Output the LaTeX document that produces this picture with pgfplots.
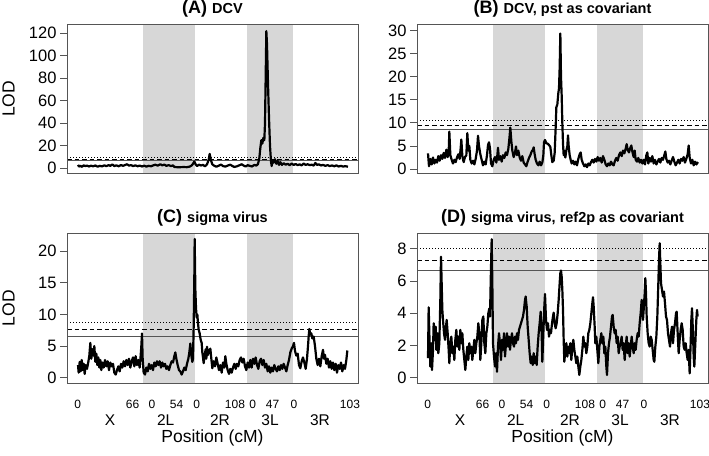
\documentclass[border=0pt]{standalone}
\usepackage{fontspec}
\setmainfont{Liberation Sans}
\usepackage{pgfplots}
\pgfplotsset{compat=1.18}
\definecolor{shade}{RGB}{215,215,215}
\definecolor{boxc}{RGB}{85,85,85}
\pgfplotsset{
 lodaxis/.style={
  scale only axis, width=291pt, height=149.7pt,
  xmin=0, xmax=873,
  axis line style={draw=boxc, line width=1pt},
  axis on top,
  tick align=outside,
  ytick pos=left,
  xtick pos=bottom,
  major tick length=7pt,
  ytick style={draw=boxc, line width=0.9pt},
  xtick style={draw=none},
  yticklabel style={font=\fontsize{16.5}{16.5}\selectfont},
  /pgf/number format/assume math mode=true,
  anchor=south west,
  xtick=\empty,
 },
 bottomaxis/.style={
  xtick={32,197,255,329,389,504,557,617,681,849},
  xticklabels={0,66,0,54,0,108,0,47,0,103},
  xticklabel style={font=\fontsize{12}{12}\selectfont, anchor=base, yshift=-18.6pt},
 },
 datline/.style={black, line width=2.2pt, line join=round},
 thr1/.style={boxc, line width=1pt},
 thr2/.style={black, line width=0.9pt, dash pattern=on 4.5pt off 3pt},
 thr3/.style={black, line width=0.9pt, dash pattern=on 1.2pt off 1.8pt},
}
\newcommand{\shading}[2]{%
 \addplot[fill=shade, draw=none] coordinates {(228,#1) (384,#1) (384,#2) (228,#2)};
 \addplot[fill=shade, draw=none] coordinates {(541,#1) (678,#1) (678,#2) (541,#2)};
}
\newcommand{\thresholds}[3]{%
 \addplot[thr1] coordinates {(0,#1) (873,#1)};
 \addplot[thr2] coordinates {(0,#2) (873,#2)};
 \addplot[thr3] coordinates {(0,#3) (873,#3)};
}
\newcommand{\ttl}[2]{{\bfseries\fontsize{18}{18}\selectfont #1 \fontsize{14.5}{14.5}\selectfont #2}}
\begin{document}
\begin{tikzpicture}
\path[use as bounding box] (0pt,0pt) rectangle (709pt,455pt);

% ---------------- (A)
\begin{axis}[lodaxis, at={(67pt,281pt)}, ymin=-5.07, ymax=128, ytick={0,20,40,60,80,100,120}]
\shading{-5.07}{128}
\thresholds{7.0}{8.0}{9.2}
\addplot[datline] coordinates {
(33,3.0)(36,1.5)(40,2.2)(45,1.3)(50,2.6)(55,2.0)(60,2.4)(66,1.6)(72,2.3)(78,1.8)(85,2.5)(92,1.4)(98,2.2)(105,1.7)(112,2.6)(118,1.9)(125,2.8)(130,2.2)(136,3.4)(142,2.0)(148,2.6)(155,1.8)(162,2.9)(168,2.2)(175,3.0)(180,3.6)(186,2.4)(192,2.8)(198,2.0)(205,2.6)(212,1.8)(218,2.4)(225,1.6)(232,2.3)(238,1.5)(245,2.2)(252,1.8)(258,2.5)(265,3.2)(272,2.4)(280,3.6)(286,2.6)(292,3.3)(298,2.2)(305,2.8)(312,2.0)(318,2.6)(322,1.2)(330,1.0)(340,1.0)(350,1.1)(360,1.0)(368,1.5)(374,2.5)(378,4.0)(382,6.0)(386,3.5)(390,2.0)(396,3.2)(402,2.5)(408,3.0)(414,1.8)(420,3.5)(425,7.5)(428,12.8)(432,7.0)(436,3.5)(442,2.2)(448,1.4)(455,2.3)(462,3.3)(468,2.0)(475,1.5)(482,2.4)(490,3.2)(496,2.0)(502,1.2)(510,1.8)(518,2.8)(524,3.6)(530,2.4)(536,1.6)(542,2.8)(548,2.2)(555,1.6)(562,3.0)(568,2.4)(573,3.8)(577,9.0)(580,18)(583,25)(586,22)(589,27)(592,25)(594,40)(596,80)(598,122)(600,110)(603,75)(606,45)(609,20)(612,6)(614,2.0)(617,7.0)(620,5.0)(624,8.0)(628,4.0)(632,6.5)(636,3.0)(640,5.5)(645,3.0)(650,4.5)(656,3.2)(662,4.0)(668,2.8)(674,4.2)(680,3.0)(686,3.8)(692,2.8)(698,3.5)(704,2.6)(710,4.2)(716,3.0)(722,3.6)(728,2.8)(734,3.2)(740,2.4)(745,4.8)(750,3.0)(756,3.5)(762,2.5)(768,3.0)(775,2.2)(782,2.8)(788,2.0)(795,2.5)(802,1.8)(808,2.6)(815,1.6)(822,2.2)(828,1.5)(835,1.9)(843,1.4)
};
\end{axis}

% ---------------- (B)
\begin{axis}[lodaxis, at={(417pt,281pt)}, ymin=-1.08, ymax=31.4, ytick={0,5,10,15,20,25,30}]
\shading{-1.08}{31.4}
\thresholds{8.68}{9.54}{10.56}
\addplot[datline] coordinates {
(33,3.4)(36,0.6)(40,2.2)(44,1.0)(48,2.5)(52,1.2)(56,2.0)(60,1.4)(64,2.8)(68,1.8)(72,3.0)(76,2.2)(80,3.5)(84,2.4)(88,4.2)(92,2.6)(95,3.5)(97,8.1)(100,3.0)(104,2.0)(108,1.2)(112,2.0)(116,1.5)(120,2.5)(124,3.2)(128,2.2)(131,4.5)(133,6.4)(136,2.8)(140,1.5)(144,2.6)(148,3.0)(151,7.8)(154,4.0)(157,5.0)(160,2.0)(164,1.2)(168,1.8)(172,1.0)(176,2.2)(180,4.0)(183,7.2)(186,5.0)(190,3.2)(194,2.0)(198,0.8)(202,1.6)(206,1.0)(210,3.0)(213,5.2)(216,5.8)(219,4.5)(222,1.2)(226,0.6)(230,2.0)(234,2.6)(238,1.4)(241,3.0)(243,4.6)(246,2.0)(250,2.8)(254,1.6)(258,3.0)(262,2.4)(266,3.6)(270,3.0)(274,4.4)(277,6.5)(280,9.0)(283,6.0)(286,4.0)(290,2.6)(294,3.6)(297,4.9)(300,3.0)(304,4.0)(308,2.5)(312,1.8)(316,2.8)(320,1.4)(324,1.0)(328,0.6)(332,1.6)(336,2.4)(340,3.0)(344,3.8)(348,4.2)(350,4.7)(353,3.2)(356,2.0)(360,1.2)(364,0.8)(368,1.6)(372,0.8)(376,1.4)(379,3.0)(381,5.8)(384,6.3)(388,5.6)(392,5.5)(396,5.2)(400,4.8)(403,3.0)(406,1.5)(410,1.8)(413,3.5)(416,9.0)(418,13.4)(421,14.0)(424,16.5)(426,17.5)(428,22)(430,29.4)(432,20)(434,16.0)(436,10.0)(438,5.5)(440,3.0)(442,4.0)(445,2.5)(448,4.0)(451,5.0)(453,7.3)(455,5.0)(458,3.0)(461,2.0)(464,1.2)(468,1.8)(472,1.0)(476,1.6)(480,0.8)(484,2.2)(488,3.2)(491,3.6)(494,2.0)(498,1.2)(502,0.6)(506,1.0)(510,0.4)(514,1.2)(518,0.8)(522,1.5)(526,2.0)(530,1.4)(534,2.2)(538,1.6)(542,2.6)(546,1.8)(550,2.4)(554,1.4)(558,2.8)(562,2.0)(566,1.0)(570,0.6)(574,1.2)(578,0.8)(582,1.6)(586,1.0)(590,0.8)(594,1.8)(598,2.4)(602,1.8)(606,3.0)(610,3.6)(614,2.8)(618,4.0)(622,3.4)(626,4.4)(629,5.4)(632,4.2)(636,3.6)(640,4.6)(643,5.1)(646,3.8)(650,2.6)(653,4.0)(656,2.0)(660,1.6)(664,2.4)(668,1.4)(672,2.0)(676,1.2)(680,2.0)(684,1.0)(688,3.0)(691,3.6)(694,1.2)(698,2.4)(702,1.6)(706,2.8)(710,1.2)(714,2.0)(718,1.0)(722,1.6)(726,2.2)(730,1.4)(734,2.4)(738,2.0)(742,3.0)(745,3.8)(748,2.2)(752,1.4)(756,1.8)(760,1.0)(764,1.8)(768,2.6)(772,1.6)(776,0.8)(780,1.4)(784,2.0)(788,1.2)(792,2.2)(796,1.8)(800,2.6)(804,1.4)(808,2.2)(812,3.2)(815,5.1)(818,2.5)(822,1.2)(826,2.0)(830,0.8)(834,1.6)(838,1.0)(843,1.5)
};
\end{axis}

% ---------------- (C)
\begin{axis}[lodaxis, bottomaxis, at={(67pt,71.7pt)}, height=150pt, ymin=-0.88, ymax=22.8, ytick={0,5,10,15,20}]
\shading{-0.88}{22.8}
\thresholds{6.43}{7.58}{8.69}
\addplot[datline] coordinates {
(33,2.0)(35,0.8)(38,2.5)(41,1.0)(44,2.8)(47,1.2)(50,2.2)(53,0.6)(56,2.0)(60,1.4)(64,2.5)(67,3.5)(70,5.5)(73,3.0)(76,4.5)(79,3.5)(82,5.0)(85,2.5)(88,3.8)(91,2.0)(94,3.2)(97,1.6)(100,2.8)(103,1.2)(106,2.4)(110,1.6)(114,2.8)(118,1.8)(122,2.6)(126,1.2)(130,2.4)(134,1.8)(138,2.2)(142,0.8)(146,0.5)(150,1.2)(154,1.8)(158,1.0)(162,2.2)(166,1.6)(170,2.6)(174,1.8)(178,2.8)(182,2.0)(186,3.0)(190,1.6)(194,2.6)(198,3.2)(202,1.8)(206,3.4)(210,2.0)(214,2.8)(218,1.6)(221,3.5)(223,5.0)(225,7.0)(227,3.0)(230,0.8)(234,0.5)(238,1.6)(242,1.0)(246,2.2)(250,1.4)(254,2.0)(258,1.2)(262,2.4)(266,1.8)(270,2.6)(274,2.0)(278,2.6)(282,1.6)(286,2.4)(290,1.8)(294,2.2)(298,1.4)(302,1.8)(306,1.2)(310,2.0)(314,2.6)(318,2.4)(322,3.4)(325,4.0)(328,3.0)(332,2.0)(336,1.2)(340,1.0)(344,0.5)(348,1.0)(352,1.6)(356,1.2)(360,2.2)(364,3.0)(367,4.0)(370,5.4)(373,3.5)(376,2.5)(378,3.0)(380,8.0)(382,16.0)(383,21.9)(385,14.0)(387,11.0)(389,9.5)(391,10.0)(393,8.6)(395,7.6)(398,7.0)(401,6.0)(404,5.5)(406,4.0)(408,3.2)(410,2.3)(413,3.5)(416,4.5)(418,3.0)(420,4.9)(423,3.6)(426,4.2)(430,4.6)(433,3.0)(436,1.5)(440,2.6)(444,1.8)(448,3.2)(452,2.2)(456,1.2)(460,2.0)(464,0.8)(468,2.4)(472,1.6)(475,3.4)(478,2.2)(482,1.2)(486,0.6)(490,1.4)(494,0.8)(498,1.6)(502,2.2)(506,1.4)(510,2.2)(514,1.8)(518,2.8)(522,3.2)(526,2.4)(530,3.0)(534,1.8)(538,1.2)(542,2.4)(546,1.6)(550,2.8)(554,1.6)(558,3.0)(562,2.2)(566,3.2)(570,2.0)(574,1.4)(578,2.6)(582,3.0)(586,2.0)(590,2.8)(594,1.6)(598,2.2)(602,1.0)(606,1.8)(610,0.8)(614,1.6)(618,1.0)(622,2.0)(626,1.4)(630,1.0)(634,1.8)(638,1.2)(642,2.0)(646,1.4)(650,2.2)(654,1.6)(658,1.0)(662,2.0)(666,2.8)(670,4.0)(674,4.6)(678,5.0)(681,5.5)(684,4.2)(688,3.5)(692,3.8)(696,2.0)(700,1.5)(704,2.6)(708,3.2)(712,2.4)(716,1.4)(720,3.0)(723,5.0)(725,6.5)(727,7.7)(730,6.8)(733,7.0)(736,6.2)(740,6.5)(744,5.0)(748,3.0)(752,2.0)(756,3.0)(760,1.8)(764,3.4)(768,4.4)(771,3.0)(774,3.6)(778,2.2)(782,3.0)(786,1.6)(790,2.6)(794,1.4)(798,2.4)(802,1.2)(806,2.2)(810,0.8)(814,2.0)(818,1.4)(822,2.4)(826,1.0)(830,2.0)(834,1.4)(838,2.8)(841,4.3)
};
\end{axis}

% ---------------- (D)
\begin{axis}[lodaxis, bottomaxis, at={(417pt,71.7pt)}, height=150pt, ymin=-0.35, ymax=8.97, ytick={0,2,4,6,8}]
\shading{-0.35}{8.97}
\thresholds{6.63}{7.31}{8.04}
\addplot[datline] coordinates {
(33,1.21)(35,4.37)(37,2.76)(40,0.69)(43,2.14)(45,0.48)(48,1.73)(50,3.38)(53,2.35)(56,3.17)(58,1.73)(61,2.76)(64,1.52)(67,2.14)(70,4.83)(72,7.52)(74,5.87)(76,4.21)(78,3.59)(81,2.76)(84,2.35)(87,3.17)(89,3.59)(92,2.76)(95,1.73)(97,0.9)(100,2.14)(103,2.55)(106,1.52)(109,1.93)(112,1.1)(115,2.35)(118,2.97)(121,1.93)(124,2.55)(127,1.73)(130,2.97)(133,2.14)(136,2.76)(139,1.73)(142,1.1)(145,0.48)(148,1.31)(151,1.93)(154,1.1)(157,2.14)(160,1.52)(163,1.93)(166,1.1)(169,1.73)(172,2.35)(175,1.52)(178,2.14)(181,2.55)(184,3.38)(187,2.76)(190,1.1)(193,2.14)(196,3.59)(199,3.8)(202,2.14)(205,1.52)(208,2.76)(211,3.17)(214,4.0)(217,4.3)(219,3.8)(221,5.87)(223,7.73)(224,8.6)(226,5.87)(228,2.14)(231,1.31)(234,0.69)(237,1.52)(240,0.37)(243,1.93)(246,2.76)(249,2.14)(252,1.1)(255,2.35)(258,1.73)(261,2.76)(264,1.31)(267,2.14)(270,2.76)(273,1.93)(276,2.55)(279,1.73)(282,2.35)(285,2.76)(288,2.14)(291,1.93)(294,2.55)(297,2.14)(300,2.76)(303,2.35)(306,2.97)(309,3.17)(312,3.38)(315,3.59)(318,3.8)(321,4.21)(324,4.83)(326,5.04)(329,4.42)(332,3.17)(335,2.35)(338,1.52)(341,0.9)(344,1.31)(347,0.79)(350,1.52)(353,0.9)(356,1.31)(359,0.79)(362,1.93)(365,2.76)(368,3.38)(371,4.1)(374,2.76)(376,0.99)(379,2.76)(382,4.42)(384,5.2)(387,3.59)(390,2.97)(393,3.38)(396,2.55)(399,2.97)(402,2.76)(405,3.38)(408,3.8)(410,4.04)(413,3.38)(416,3.07)(419,3.38)(422,4.0)(425,4.83)(428,5.87)(430,6.49)(432,6.66)(434,6.28)(436,5.45)(438,4.21)(440,2.35)(442,0.99)(445,1.73)(448,2.14)(451,1.31)(454,1.93)(457,1.52)(460,2.14)(463,1.1)(466,1.93)(469,2.35)(472,1.73)(475,1.31)(478,0.9)(481,1.31)(484,0.69)(487,0.17)(490,0.69)(493,1.1)(496,1.73)(499,2.55)(502,1.93)(505,2.14)(508,1.52)(511,1.93)(514,2.76)(517,2.97)(520,3.38)(523,4.0)(526,4.62)(528,5.0)(530,4.42)(533,3.17)(535,2.14)(538,2.55)(541,1.73)(544,0.9)(547,1.93)(550,2.35)(553,2.76)(556,2.14)(559,2.55)(562,1.52)(565,1.93)(568,0.69)(570,0.17)(573,1.52)(576,2.14)(579,2.55)(582,3.17)(585,3.8)(587,3.9)(590,3.17)(593,2.76)(596,2.97)(599,2.14)(602,2.55)(605,1.52)(608,1.93)(611,2.14)(614,2.55)(617,1.73)(620,2.14)(623,1.1)(626,1.93)(629,2.55)(632,1.52)(635,2.14)(638,1.31)(641,1.93)(644,2.55)(647,1.93)(650,1.52)(653,2.14)(656,1.73)(659,2.35)(662,2.76)(665,2.55)(668,3.38)(671,4.0)(674,4.83)(676,4.42)(678,3.59)(680,4.21)(683,5.24)(685,6.18)(687,5.24)(689,3.8)(692,2.76)(695,2.14)(698,1.93)(701,2.55)(704,2.35)(707,1.73)(710,1.1)(712,0.99)(715,1.93)(718,2.55)(721,3.8)(724,5.87)(726,7.32)(728,8.35)(730,7.1)(732,5.87)(735,5.45)(738,5.04)(741,5.35)(744,4.62)(747,3.8)(750,3.59)(753,2.76)(756,2.35)(759,1.93)(762,2.76)(765,3.17)(768,2.14)(771,2.97)(774,3.38)(777,4.0)(779,4.1)(782,2.76)(785,1.52)(788,2.35)(791,2.97)(794,3.38)(797,2.97)(800,1.93)(803,1.73)(806,2.14)(809,1.52)(812,1.1)(815,1.73)(818,0.27)(821,2.14)(823,3.59)(825,4.31)(828,2.76)(830,1.31)(832,0.69)(835,2.14)(838,3.59)(840,4.21)(842,3.8)
};
\end{axis}

% ---------------- titles and labels
\node[anchor=base] at (212.5pt,441pt) {\ttl{(A)}{DCV}};
\node[anchor=base] at (562.5pt,441pt) {\ttl{(B)}{DCV, pst as covariant}};
\node[anchor=base] at (212.5pt,232pt) {\ttl{(C)}{sigma virus}};
\node[anchor=base] at (562.5pt,232pt) {\ttl{(D)}{sigma virus, ref2p as covariant}};
\node[rotate=90] at (8.5pt,356pt) {\fontsize{17.5}{17.5}\selectfont LOD};
\node[rotate=90] at (8.5pt,146.7pt) {\fontsize{17.5}{17.5}\selectfont LOD};
\foreach \dx in {0,350} {
 \node[anchor=base] at (110pt+\dx pt,29.5pt) {\fontsize{15.5}{15.5}\selectfont X};
 \node[anchor=base] at (165.7pt+\dx pt,29.5pt) {\fontsize{15.5}{15.5}\selectfont 2L};
 \node[anchor=base] at (220pt+\dx pt,29.5pt) {\fontsize{15.5}{15.5}\selectfont 2R};
 \node[anchor=base] at (270pt+\dx pt,29.5pt) {\fontsize{15.5}{15.5}\selectfont 3L};
 \node[anchor=base] at (320pt+\dx pt,29.5pt) {\fontsize{15.5}{15.5}\selectfont 3R};
 \node[anchor=base] at (212.5pt+\dx pt,12.3pt) {\fontsize{17.5}{17.5}\selectfont Position (cM)};
}
\end{tikzpicture}
\end{document}
